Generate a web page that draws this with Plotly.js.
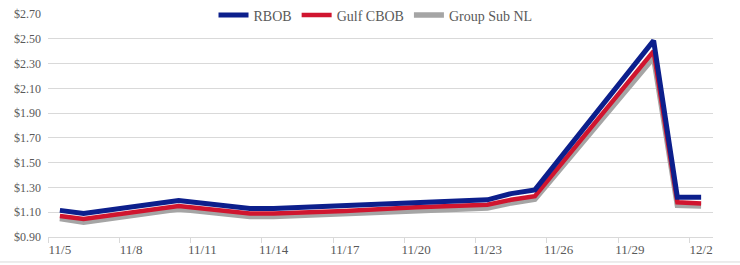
<!DOCTYPE html>
<html>
<head>
<meta charset="utf-8">
<script src="https://cdn.plot.ly/plotly-3.0.1.min.js"></script>
<style>html,body{margin:0;padding:0;background:#fff}#chart{width:740px;height:265px}</style>
</head>
<body>
<div id="chart"></div>
<script>
const dates = ['2024-11-05','2024-11-06','2024-11-10','2024-11-13','2024-11-14','2024-11-17','2024-11-20','2024-11-23','2024-11-24','2024-11-25','2024-11-30','2024-12-01','2024-12-02'];
const rbob     = [1.115, 1.09, 1.195, 1.13, 1.13, 1.155, 1.175, 1.20, 1.25, 1.28, 2.485, 1.22, 1.22];
const gulfCbob = [1.07, 1.045, 1.15, 1.09, 1.09, 1.11, 1.14, 1.16, 1.20, 1.23, 2.40, 1.18, 1.17];
const groupSub = [1.05, 1.02, 1.125, 1.065, 1.065, 1.085, 1.115, 1.135, 1.175, 1.205, 2.35, 1.155, 1.15];
const tickDates = ['2024-11-05','2024-11-08','2024-11-11','2024-11-14','2024-11-17','2024-11-20','2024-11-23','2024-11-26','2024-11-29','2024-12-02'];
const tickLabels = ['11/5','11/8','11/11','11/14','11/17','11/20','11/23','11/26','11/29','12/2'];
const tickMarks = ['2024-11-04 12:00','2024-11-07 12:00','2024-11-10 12:00','2024-11-13 12:00','2024-11-16 12:00','2024-11-19 12:00','2024-11-22 12:00','2024-11-25 12:00','2024-11-28 12:00','2024-12-01 12:00'];

const serif = 'Liberation Serif, Times New Roman, serif';
const traces = [
  {x: dates, y: groupSub, name: 'Group Sub NL', mode: 'lines', line: {color: '#a5a5a5', width: 5.5}},
  {x: dates, y: gulfCbob, name: 'Gulf CBOB', mode: 'lines', line: {color: '#d0152f', width: 4.5}},
  {x: dates, y: rbob, name: 'RBOB', mode: 'lines', line: {color: '#0c1f8c', width: 5}}
];
const layout = {
  width: 740, height: 265,
  margin: {l: 48, r: 27, t: 14, b: 28, autoexpand: false},
  paper_bgcolor: '#fff', plot_bgcolor: '#fff',
  showlegend: true,
  legend: {orientation: 'h', x: 0.4925, xanchor: 'center', y: 1.065, yanchor: 'top',
           traceorder: 'reversed', bgcolor: 'rgba(0,0,0,0)', tracegroupgap: 0,
           font: {family: serif, size: 14, color: '#595959'}, itemwidth: 30},
  xaxis: {type: 'date', range: ['2024-11-04 12:00','2024-12-02 12:00'],
          tickvals: tickDates, ticktext: tickLabels, ticks: '',
          showgrid: false, zeroline: false, showline: true, linecolor: '#d9d9d9', linewidth: 1,
          tickfont: {family: serif, size: 13, color: '#595959'},
          minor: {tickvals: tickMarks, ticks: 'outside', ticklen: 5, tickcolor: '#d9d9d9', showgrid: false}},
  yaxis: {range: [0.9, 2.7], dtick: 0.2, tick0: 0.9, tickformat: '$.2f',
          showgrid: true, gridcolor: '#d9d9d9', gridwidth: 1, zeroline: false, showline: false,
          ticks: '', ticklabelstandoff: 6, tickfont: {family: serif, size: 12, color: '#595959'}},
  shapes: [{type: 'line', xref: 'paper', yref: 'paper', x0: -0.08, x1: 1.05, y0: -0.112, y1: -0.112,
            line: {color: '#d9d9d9', width: 1}}]
};
Plotly.newPlot('chart', traces, layout, {displayModeBar: false, staticPlot: true});
</script>
</body>
</html>
